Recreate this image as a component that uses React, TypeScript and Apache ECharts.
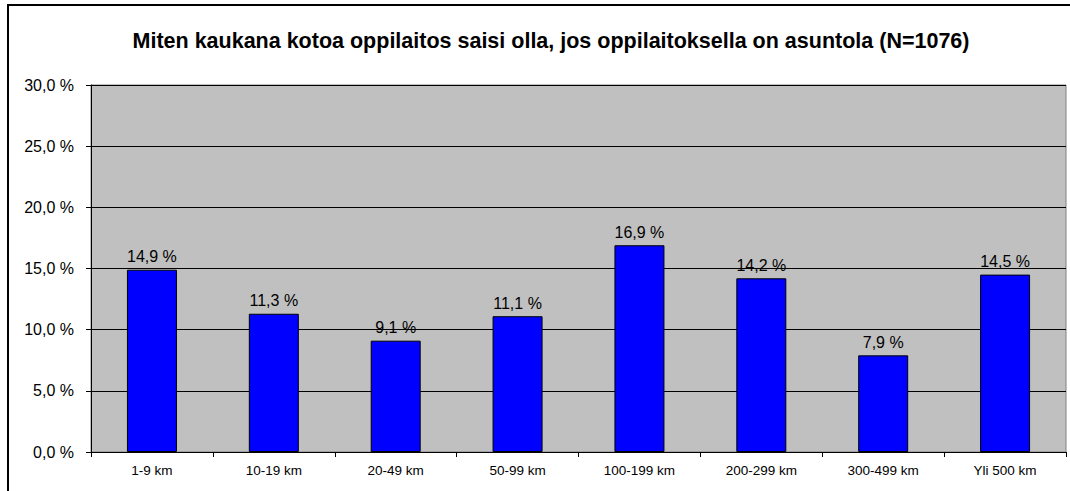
import React, { useEffect, useRef } from "react";
import * as echarts from "echarts";

const titleText = "Miten kaukana kotoa oppilaitos saisi olla, jos oppilaitoksella on asuntola (N=1076)";
const categories = ["1-9 km", "10-19 km", "20-49 km", "50-99 km", "100-199 km", "200-299 km", "300-499 km", "Yli 500 km"];
const values = [14.9, 11.3, 9.1, 11.1, 16.9, 14.2, 7.9, 14.5];

const fmt = (v: number) => v.toFixed(1).replace(".", ",") + " %";

export default function App() {
  const ref = useRef<HTMLDivElement>(null);
  useEffect(() => {
    const chart = echarts.init(ref.current!, null, { renderer: "svg" });
    chart.setOption({
      animation: false,
      backgroundColor: "#ffffff",
      title: {
        text: titleText,
        left: 546,
        textAlign: "center",
        top: 25,
        textStyle: { fontFamily: "Liberation Sans, Arial", fontWeight: "bold", fontSize: 21.5, color: "#000" },
      },
      graphic: [
        {
          type: "rect",
          shape: { x: 8, y: 5, width: 1080, height: 500 },
          style: { fill: "none", stroke: "#000", lineWidth: 2 },
          silent: true,
        },
      ],
      grid: { left: 91, top: 85, width: 975, height: 367, show: true, backgroundColor: "#C0C0C0", borderColor: "#808080", borderWidth: 1 },
      xAxis: {
        type: "category",
        data: categories,
        axisLine: { show: true, lineStyle: { color: "#000", width: 1 } },
        axisTick: { show: true, length: 5, alignWithLabel: false, lineStyle: { color: "#000" } },
        axisLabel: { fontFamily: "Liberation Sans, Arial", fontSize: 13.5, color: "#000", margin: 11 },
      },
      yAxis: {
        type: "value",
        min: 0,
        max: 30,
        interval: 5,
        axisLine: { show: true, lineStyle: { color: "#000", width: 1 } },
        axisTick: { show: true, length: 5, lineStyle: { color: "#000" } },
        splitLine: { show: true, lineStyle: { color: "#000", width: 1 } },
        axisLabel: { fontFamily: "Liberation Sans, Arial", fontSize: 16, color: "#000", margin: 17, formatter: (v: number) => fmt(v) },
      },
      series: [
        {
          type: "bar",
          data: values,
          barWidth: 50,
          itemStyle: { color: "#0000FF", borderColor: "#000", borderWidth: 1 },
          label: {
            show: true,
            position: "top",
            distance: 5,
            fontFamily: "Liberation Sans, Arial",
            fontSize: 16,
            color: "#000",
            formatter: (p: any) => fmt(p.value),
          },
        },
      ],
    });
    return () => chart.dispose();
  }, []);
  return <div ref={ref} style={{ position: "absolute", left: 0, top: 0, width: 1070, height: 491 }} />;
}
